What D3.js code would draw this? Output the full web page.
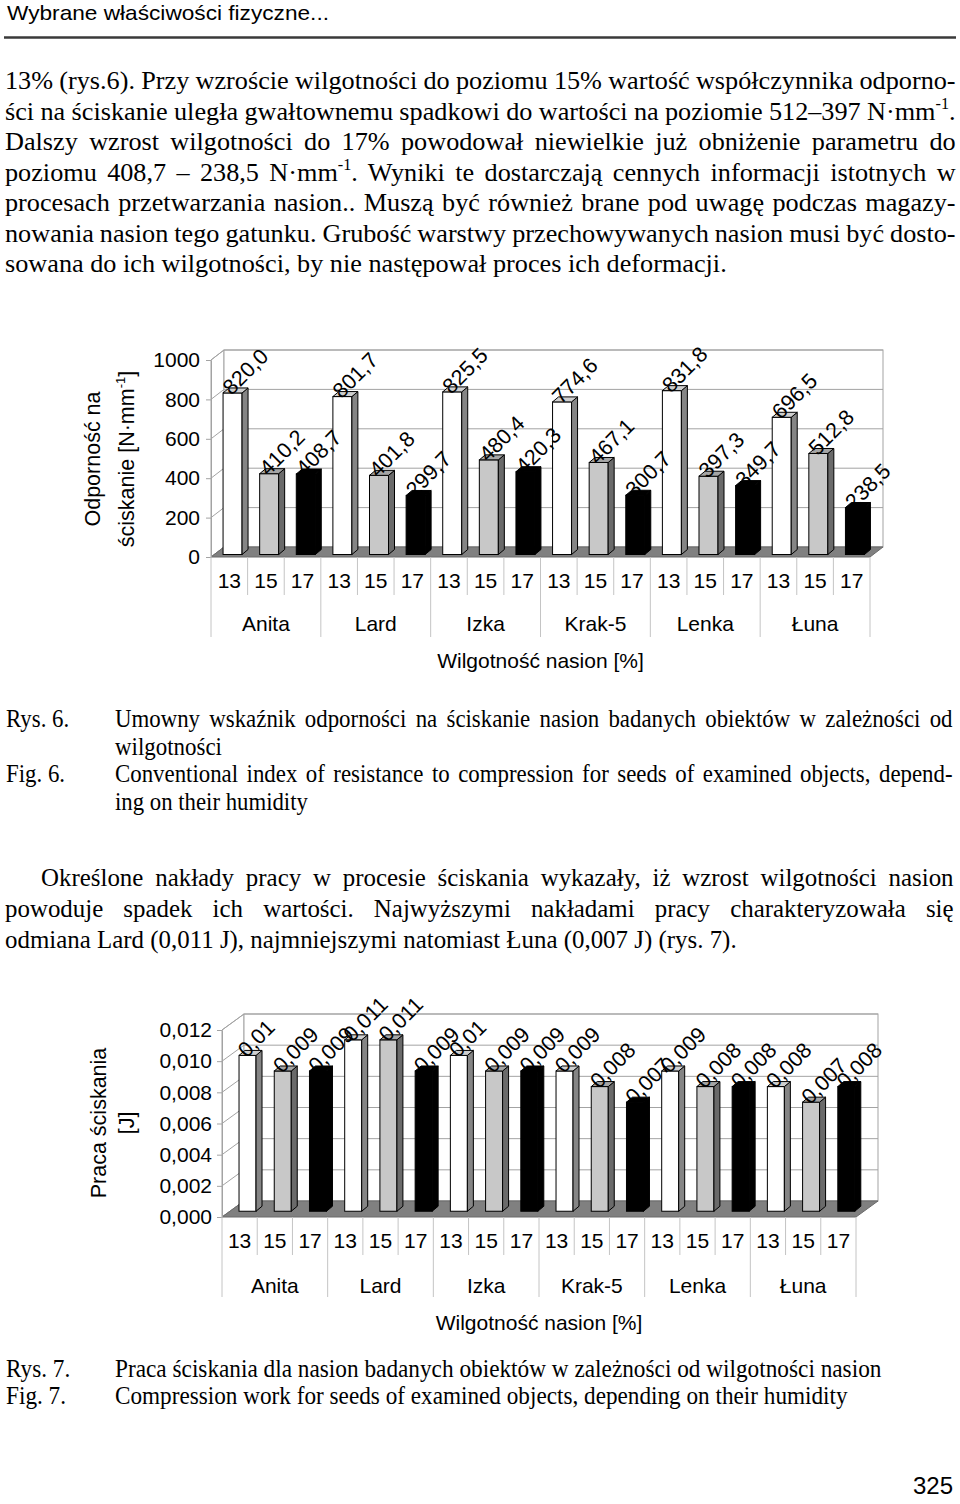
<!DOCTYPE html>
<html>
<head>
<meta charset="utf-8">
<script src="https://cdn.jsdelivr.net/npm/d3@7"></script>
<style>
  body { margin: 0; background: #fff; }
  svg { display: block; }
</style>
</head>
<body>
<svg id="page" width="960" height="1504"></svg>
<script>
// chart data
const varieties = ["Anita", "Lard", "Izka", "Krak-5", "Lenka", "Łuna"];
const humidity = ["13", "15", "17"];
const resistance = [820.0, 410.2, 408.7, 801.7, 401.8, 299.7, 825.5, 480.4, 420.3,
                    774.6, 467.1, 300.7, 831.8, 397.3, 349.7, 696.5, 512.8, 238.5];
const work = [0.010, 0.009, 0.009, 0.011, 0.011, 0.009, 0.010, 0.009, 0.009,
              0.009, 0.008, 0.007, 0.009, 0.008, 0.008, 0.008, 0.007, 0.008];
const resTicks = [0, 200, 400, 600, 800, 1000];
const workTicks = [0, 0.002, 0.004, 0.006, 0.008, 0.010, 0.012];

const SERIF = "'Liberation Serif','Times New Roman',serif";
const SANS = "'Liberation Sans',Arial,sans-serif";
const svg = d3.select("#page");
const comma = s => s.replace(".", ",");

// ---------- text helpers ----------
function buildText(parent, parts, size, font) {
  const t = parent.append("text").attr("font-family", font).attr("font-size", size).attr("fill", "#000");
  let lift = 0;
  parts.forEach(p => {
    if (typeof p === "string") {
      t.append("tspan").attr("dy", lift).text(p);
      lift = 0;
    } else {
      t.append("tspan").attr("dy", -size * 0.42).attr("font-size", size * 0.62).text(p.sup);
      lift = size * 0.42;
    }
  });
  return t;
}

// block of lines; non-justified lines with x1 set the horizontal scale k
function textBlock(lines, size, font) {
  const made = lines.map(l => {
    const t = buildText(svg, l.parts, size, font);
    return { l, t, len: t.node().getComputedTextLength() };
  });
  const ks = made.filter(m => m.l.x1 && !m.l.justify).map(m => (m.l.x1 - m.l.x0) / m.len);
  const kBlock = ks.length ? d3.mean(ks) : 1;
  made.forEach(({ l, t, len }) => {
    let k = kBlock;
    if (l.justify) {
      const spaces = l.parts.filter(p => typeof p === "string").join("").split(" ").length - 1;
      t.attr("word-spacing", ((l.x1 - l.x0) / k - len) / spaces);
    } else if (l.x1) {
      k = (l.x1 - l.x0) / len;
    }
    t.attr("transform", `translate(${l.x0},${l.y}) scale(${k},1)`);
  });
}

// ---------- header ----------
svg.append("text").attr("x", 7).attr("y", 20).attr("font-family", SANS).attr("font-size", 21)
  .attr("textLength", 322).attr("lengthAdjust", "spacingAndGlyphs")
  .text("Wybrane właściwości fizyczne...");
svg.append("line").attr("x1", 4).attr("x2", 956).attr("y1", 37.5).attr("y2", 37.5)
  .attr("stroke", "#3a3a3a").attr("stroke-width", 2.5);

// ---------- first paragraph ----------
const p1 = [
  ["13% (rys.6). Przy wzroście wilgotności do poziomu 15% wartość współczynnika odporno-"],
  ["ści na ściskanie uległa gwałtownemu spadkowi do wartości na poziomie 512–397 N·mm", { sup: "-1" }, "."],
  ["Dalszy wzrost wilgotności do 17% powodował niewielkie już obniżenie parametru do"],
  ["poziomu 408,7 – 238,5 N·mm", { sup: "-1" }, ". Wyniki te dostarczają cennych informacji istotnych w"],
  ["procesach przetwarzania nasion.. Muszą być również brane pod uwagę podczas magazy-"],
  ["nowania nasion tego gatunku. Grubość warstwy przechowywanych nasion musi być dosto-"],
  ["sowana do ich wilgotności, by nie następował proces ich deformacji."]
];
textBlock(p1.map((parts, i) => ({
  parts, x0: 5, x1: i < 6 ? 956 : 727, justify: i < 6, y: 89 + i * 30.5
})), 25.5, SERIF);

// ---------- captions Rys. 6 ----------
textBlock([
  { parts: ["Rys. 6."], x0: 6, y: 727 },
  { parts: ["Umowny wskaźnik odporności na ściskanie nasion badanych obiektów w zależności od"], x0: 115, x1: 953, justify: true, y: 727 },
  { parts: ["wilgotności"], x0: 115, x1: 222, y: 755 },
  { parts: ["Fig. 6."], x0: 6, y: 782 },
  { parts: ["Conventional index of resistance to compression for seeds of examined objects, depend-"], x0: 115, x1: 953, justify: true, y: 782 },
  { parts: ["ing on their humidity"], x0: 115, x1: 308, y: 810 }
], 25, SERIF);

// ---------- second paragraph ----------
textBlock([
  { parts: ["Określone nakłady pracy w procesie ściskania wykazały, iż wzrost wilgotności nasion"], x0: 41, x1: 954, justify: true, y: 886 },
  { parts: ["powoduje spadek ich wartości. Najwyższymi nakładami pracy charakteryzowała się"], x0: 5, x1: 954, justify: true, y: 917 },
  { parts: ["odmiana Lard (0,011 J), najmniejszymi natomiast Łuna (0,007 J) (rys. 7)."], x0: 5, x1: 737, y: 948 }
], 26, SERIF);

// ---------- captions Rys. 7 ----------
textBlock([
  { parts: ["Rys. 7."], x0: 6, y: 1377 },
  { parts: ["Praca ściskania dla nasion badanych obiektów w zależności od wilgotności nasion"], x0: 115, x1: 882, y: 1377 },
  { parts: ["Fig. 7."], x0: 6, y: 1404 },
  { parts: ["Compression work for seeds of examined objects, depending on their humidity"], x0: 115, x1: 848, y: 1404 }
], 25, SERIF);

svg.append("text").attr("x", 953).attr("y", 1494).attr("text-anchor", "end")
  .attr("font-family", SANS).attr("font-size", 24).text("325");

// ---------- 3D column chart ----------
function chart3d(o) {
  const g = svg.append("g");
  const n = o.values.length;
  const [dx, dy] = o.depth;
  const [bdx, bdy] = o.barDepth;
  const grid = "#a3a3a3";

  const x = d3.scaleBand().domain(d3.range(n)).range([o.x0, o.x1]);
  const y = d3.scaleLinear().domain([0, o.max]).range([o.y0, o.y0 - o.h]);
  const top = y(o.max);

  // walls
  g.append("path")
    .attr("d", `M${o.x0},${o.y0}L${o.x0 + dx},${o.y0 + dy}L${o.x0 + dx},${top + dy}L${o.x0},${top}Z`)
    .attr("fill", "#fff").attr("stroke", grid);
  g.append("rect").attr("x", o.x0 + dx).attr("y", top + dy)
    .attr("width", o.x1 - o.x0).attr("height", o.h)
    .attr("fill", "#fff").attr("stroke", grid);
  g.selectAll(".grid").data(o.ticks).join("path")
    .attr("fill", "none").attr("stroke", grid)
    .attr("d", t => `M${o.x0},${y(t)}L${o.x0 + dx},${y(t) + dy}L${o.x1 + dx},${y(t) + dy}`);

  // floor
  g.append("path")
    .attr("d", `M${o.x0},${o.y0}L${o.x0 + dx},${o.y0 + dy}L${o.x1 + dx},${o.y0 + dy}L${o.x1},${o.y0}Z`)
    .attr("fill", "#808080").attr("stroke", "#6a6a6a");

  // value axis
  const ax = g.append("g").attr("transform", `translate(${o.x0},0)`)
    .call(d3.axisLeft(y).tickValues(o.ticks).tickSize(5).tickSizeOuter(0)
      .tickPadding(o.pad).tickFormat(o.tickFmt));
  ax.select(".domain").attr("stroke", grid);
  ax.selectAll(".tick line").attr("stroke", grid);
  ax.selectAll(".tick text").attr("font-family", SANS).attr("font-size", 21).attr("fill", "#000");

  // category axis
  const bw = x.bandwidth();
  g.selectAll(".sep").data(d3.range(n + 1)).join("line")
    .attr("x1", i => o.x0 + i * bw).attr("x2", i => o.x0 + i * bw)
    .attr("y1", o.y0).attr("y2", i => o.y0 + (i % 3 === 0 ? 80 : 38))
    .attr("stroke", "#c4c4c4");
  g.selectAll(".tk").data(d3.range(n)).join("text")
    .attr("x", i => x(i) + bw / 2).attr("y", o.y0 + o.tickDy)
    .attr("text-anchor", "middle").attr("font-family", SANS).attr("font-size", 21)
    .text(i => humidity[i % 3]);
  g.selectAll(".grp").data(varieties).join("text")
    .attr("x", (d, j) => x(j * 3) + bw * 1.5).attr("y", o.y0 + o.groupDy)
    .attr("text-anchor", "middle").attr("font-family", SANS).attr("font-size", 21)
    .text(d => d);
  g.append("text").attr("x", (o.x0 + o.x1) / 2).attr("y", o.y0 + o.titleDy)
    .attr("text-anchor", "middle").attr("font-family", SANS).attr("font-size", 21)
    .text("Wilgotność nasion [%]");

  // y title
  const yt = g.append("g").attr("transform", `translate(0,${o.titleY}) rotate(-90)`);
  o.yTitle.forEach((parts, li) => {
    const t = yt.append("text").attr("x", 0).attr("y", o.titleX[li]).attr("text-anchor", "middle")
      .attr("font-family", SANS).attr("font-size", 21.5);
    let lift = 0;
    parts.forEach(p => {
      if (typeof p === "string") { t.append("tspan").attr("dy", lift).text(p); lift = 0; }
      else { t.append("tspan").attr("dy", -9).attr("font-size", 13).text(p.sup); lift = 9; }
    });
  });

  // bars
  const face = [
    { front: "#ffffff", side: "#858585", top: "#cfcfcf" },
    { front: "#c8c8c8", side: "#6a6a6a", top: "#a5a5a5" },
    { front: "#000000", side: "#000000", top: "#000000" }
  ];
  const bars = g.selectAll(".bar").data(o.values).join("g");
  const fx = i => x(i) + (bw - o.barW) / 2 + o.barOff * dx;
  const fb = o.y0 + o.barOff * dy;
  const ft = v => y(v) + o.barOff * dy;
  bars.append("rect")
    .attr("x", (v, i) => fx(i)).attr("y", v => ft(v))
    .attr("width", o.barW).attr("height", v => fb - ft(v))
    .attr("fill", (v, i) => face[i % 3].front).attr("stroke", "#000");
  bars.append("path")
    .attr("d", (v, i) => {
      const r = fx(i) + o.barW;
      return `M${r},${fb}L${r + bdx},${fb + bdy}L${r + bdx},${ft(v) + bdy}L${r},${ft(v)}Z`;
    })
    .attr("fill", (v, i) => face[i % 3].side).attr("stroke", "#000");
  bars.append("path")
    .attr("d", (v, i) => {
      const l = fx(i), r = l + o.barW, t = ft(v);
      return `M${l},${t}L${l + bdx},${t + bdy}L${r + bdx},${t + bdy}L${r},${t}Z`;
    })
    .attr("fill", (v, i) => face[i % 3].top).attr("stroke", "#000");

  // data labels
  g.selectAll(".lbl").data(o.values).join("text")
    .attr("transform", (v, i) => `translate(${fx(i) + o.barW * 0.45},${ft(v) + 3}) rotate(-45)`)
    .attr("font-family", SANS).attr("font-size", 21.5)
    .text(v => o.labelFmt(v));
}

chart3d({
  values: resistance, max: 1000, ticks: resTicks,
  tickFmt: d3.format("d"), labelFmt: v => comma(d3.format(".1f")(v)),
  x0: 211, x1: 870, y0: 557, h: 197, depth: [13, -10], barDepth: [6, -5],
  barW: 19, barOff: 0.25, pad: 6,
  tickDy: 30.5, groupDy: 73.5, titleDy: 111,
  titleY: 459, titleX: [100, 134],
  yTitle: [["Odporność na"], ["ściskanie [N·mm", { sup: "-1" }, "]"]]
});

chart3d({
  values: work, max: 0.012, ticks: workTicks,
  tickFmt: v => comma(d3.format(".3f")(v)), labelFmt: v => comma(d3.format("~f")(v)),
  x0: 222, x1: 856, y0: 1217, h: 187, depth: [22, -16], barDepth: [6, -5],
  barW: 17, barOff: 0.36, pad: 5,
  tickDy: 30.5, groupDy: 75.5, titleDy: 112.5,
  titleY: 1123, titleX: [106, 134],
  yTitle: [["Praca ściskania"], ["[J]"]]
});
</script>
</body>
</html>
